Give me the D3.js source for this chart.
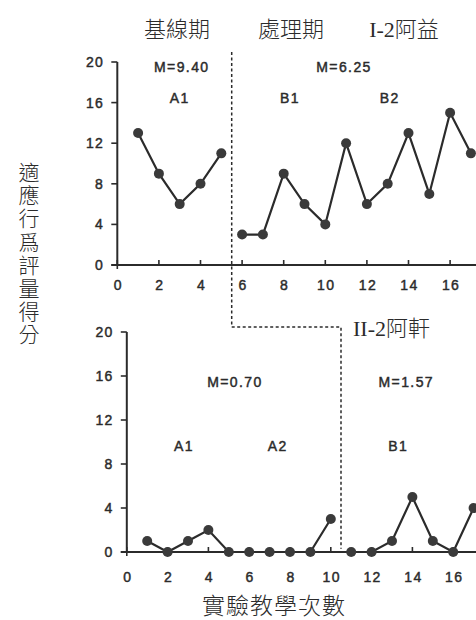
<!DOCTYPE html>
<html><head><meta charset="utf-8">
<script src="https://cdn.jsdelivr.net/npm/d3@7"></script>
<style>body{margin:0;background:#fff}svg{display:block}</style>
</head><body><svg id="c" width="476" height="620"></svg>
<script>
// ---- data ----
const sessions = d3.range(1, 18);
const topValues = [13, 9, 6, 8, 11, 3, 3, 9, 6, 4, 12, 6, 8, 13, 7, 15, 11];
const topPhaseBreak = 5;      // last session of baseline (top)
const bottomValues = [1, 0, 1, 2, 0, 0, 0, 0, 0, 3, 0, 0, 1, 5, 1, 0, 4];
const bottomPhaseBreak = 10;  // last session of baseline (bottom)
const yTicks = [0, 4, 8, 12, 16, 20];
const xTicks = [0, 2, 4, 6, 8, 10, 12, 14, 16];
const topLabels = [{t: "M=9.40", x: 3.1, y: 19}, {t: "A1", x: 3.0, y: 16},
                   {t: "M=6.25", x: 10.9, y: 19}, {t: "B1", x: 8.3, y: 16}, {t: "B2", x: 13.1, y: 16}];
const bottomLabels = [{t: "M=0.70", x: 5.3, y: 15}, {t: "M=1.57", x: 13.7, y: 15},
                      {t: "A1", x: 2.8, y: 9.2}, {t: "A2", x: 7.4, y: 9.2}, {t: "B1", x: 13.3, y: 9.2}];
const phaseTitles = ["基線期", "處理期", "I-2阿益"];
const caseTitle2 = "II-2阿軒";
const yTitle = "適應行爲評量得分";
const xTitle = "實驗教學次數";

const svg = d3.select("#c");
const W = 476;
const ink = "#2b2b2b";
const numFont = "'Liberation Sans', Arial, sans-serif";
const cjkFont = "'Liberation Serif', 'Noto Sans CJK TC', serif";

function numText(sel) {
  return sel.attr("font-family", numFont).attr("font-size", 14).attr("letter-spacing", 1.4)
    .attr("fill", ink).attr("stroke", ink).attr("stroke-width", 0.45);
}

function panel(x0, ux, yTop, yBot, values, brk, labels, labelY) {
  const x = d3.scaleLinear().domain([0, 17]).range([x0, x0 + 17 * ux]);
  const y = d3.scaleLinear().domain([0, 20]).range([yBot, yTop]);
  const g = svg.append("g");
  // y axis
  g.append("line").attr("x1", x(0)).attr("x2", x(0)).attr("y1", y(20)).attr("y2", y(0))
    .attr("stroke", ink).attr("stroke-width", 2);
  g.selectAll(".yt").data(yTicks).join("line")
    .attr("x1", x(0) - 6).attr("x2", x(0)).attr("y1", d => y(d)).attr("y2", d => y(d))
    .attr("stroke", ink).attr("stroke-width", 1.6);
  numText(g.selectAll(".yl").data(yTicks).join("text")
    .attr("x", x(0) - 13).attr("y", d => y(d) + 5).attr("text-anchor", "end")).text(d => d);
  // x axis
  g.append("line").attr("x1", x(0) - 6).attr("x2", W).attr("y1", y(0)).attr("y2", y(0))
    .attr("stroke", ink).attr("stroke-width", 2);
  g.selectAll(".xt").data(xTicks).join("line")
    .attr("x1", d => x(d)).attr("x2", d => x(d))
    .attr("y1", y(0) - 5).attr("y2", d => d === 0 ? y(0) + 4 : y(0))
    .attr("stroke", ink).attr("stroke-width", 1.6);
  numText(g.selectAll(".xl").data(xTicks).join("text")
    .attr("x", d => x(d) + 1).attr("y", labelY).attr("text-anchor", "middle")).text(d => d);
  // data
  const pts = sessions.map((s, i) => ({s, v: values[i]}));
  const segs = [pts.filter(p => p.s <= brk), pts.filter(p => p.s > brk)];
  const line = d3.line().x(p => x(p.s)).y(p => y(p.v));
  g.selectAll(".seg").data(segs).join("path").attr("d", line)
    .attr("fill", "none").attr("stroke", ink).attr("stroke-width", 2.2);
  g.selectAll(".pt").data(pts).join("circle")
    .attr("cx", p => x(p.s)).attr("cy", p => y(p.v)).attr("r", 5)
    .attr("fill", "#3a3a3a");
  numText(g.selectAll(".lab").data(labels).join("text")
    .attr("x", d => x(d.x)).attr("y", d => y(d.y)).attr("text-anchor", "middle")).text(d => d.t);
  return {x, y};
}

const T = panel(117.3, 20.8, 62, 265, topValues, topPhaseBreak, topLabels, 290);
const B = panel(126.8, 20.4, 332, 552, bottomValues, bottomPhaseBreak, bottomLabels, 582);

// phase change dashed line
const bx1 = T.x(topPhaseBreak + 0.5), bx2 = B.x(bottomPhaseBreak + 0.5);
const midY = 327;
svg.append("path")
  .attr("d", d3.line()([[bx1, 52], [bx1, midY], [bx2, midY], [bx2, B.y(0.3)]]))
  .attr("fill", "none").attr("stroke", ink).attr("stroke-width", 1.5)
  .attr("stroke-dasharray", "3,2.5");

// titles
const titleX = [177, 291, 404];
svg.selectAll(".pt2").data(phaseTitles).join("text")
  .attr("x", (d, i) => titleX[i]).attr("y", 37).attr("text-anchor", "middle")
  .attr("font-family", cjkFont).attr("font-size", 22).attr("fill", ink).attr("font-weight", 300)
  .text(d => d);
svg.append("text").attr("x", 353).attr("y", 336)
  .attr("font-family", cjkFont).attr("font-size", 22).attr("fill", ink).attr("font-weight", 300)
  .text(caseTitle2);
svg.append("text").attr("x", 274).attr("y", 614).attr("text-anchor", "middle")
  .attr("font-family", cjkFont).attr("font-size", 23).attr("fill", ink).attr("font-weight", 300)
  .attr("letter-spacing", 1).text(xTitle);
svg.selectAll(".yc").data(Array.from(yTitle)).join("text")
  .attr("x", 29).attr("y", (d, i) => 180 + i * 23.2).attr("text-anchor", "middle")
  .attr("font-family", cjkFont).attr("font-size", 21).attr("fill", ink).attr("font-weight", 300)
  .text(d => d);
</script></body></html>
